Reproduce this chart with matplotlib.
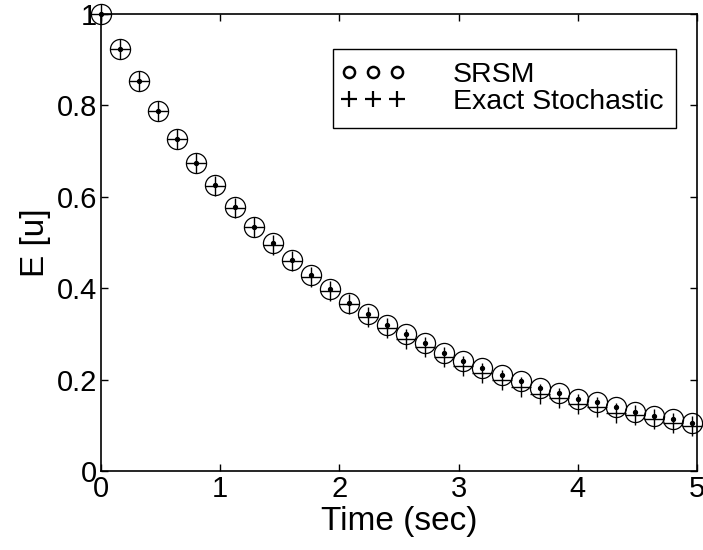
import matplotlib
matplotlib.use("Agg")
import matplotlib.pyplot as plt
from matplotlib.lines import Line2D
from matplotlib.legend_handler import HandlerLine2D

plt.rcParams['font.family'] = ['Liberation Sans', 'DejaVu Sans']

time_sec = [0.00, 0.16, 0.32, 0.48, 0.64, 0.80, 0.96, 1.12, 1.28, 1.44,
            1.60, 1.76, 1.92, 2.08, 2.24, 2.40, 2.56, 2.72, 2.88, 3.04,
            3.20, 3.36, 3.52, 3.68, 3.84, 4.00, 4.16, 4.32, 4.48, 4.64,
            4.80, 4.96]

srsm = [1.000, 0.923, 0.853, 0.788, 0.727, 0.675, 0.626, 0.577, 0.535, 0.498,
        0.462, 0.428, 0.398, 0.368, 0.343, 0.319, 0.299, 0.279, 0.259, 0.241,
        0.225, 0.211, 0.197, 0.182, 0.170, 0.158, 0.150, 0.139, 0.130, 0.120,
        0.113, 0.106]

exact = [1.000, 0.923, 0.853, 0.787, 0.726, 0.674, 0.624, 0.576, 0.533, 0.495,
         0.459, 0.425, 0.393, 0.366, 0.338, 0.314, 0.289, 0.271, 0.250, 0.230,
         0.214, 0.199, 0.183, 0.169, 0.160, 0.146, 0.140, 0.128, 0.122, 0.114,
         0.104, 0.098]

xticks = [0, 1, 2, 3, 4, 5]
yticks = [0, 0.2, 0.4, 0.6, 0.8, 1]
ytick_labels = ['0', '0.2', '0.4', '0.6', '0.8', '1']

fig = plt.figure(figsize=(7.03, 5.50), dpi=100)
ax = fig.add_axes([101/703, 1 - 471/550, 596/703, 457/550])

ax.plot(time_sec, srsm, linestyle='none', marker='o', markersize=14.5,
        markerfacecolor='none', markeredgecolor='black', markeredgewidth=0.9,
        clip_on=False, zorder=3)
ax.plot(time_sec, srsm, linestyle='none', marker='o', markersize=2.8,
        markerfacecolor='black', markeredgecolor='black', clip_on=False, zorder=4)
ax.plot(time_sec, exact, linestyle='none', marker='+', markersize=14.5,
        markeredgecolor='black', markeredgewidth=1.0, clip_on=False, zorder=3)

ax.set_xlim(0, 5)
ax.set_ylim(0, 1)
ax.set_xticks(xticks)
ax.set_xticklabels([str(v) for v in xticks])
ax.set_yticks(yticks)
ax.set_yticklabels(ytick_labels)
ax.tick_params(direction='in', length=5, width=1, top=True, right=True,
               labelsize=21, pad=3, colors='black')
for s in ax.spines.values():
    s.set_linewidth(1.2)
    s.set_color('black')

ax.set_xlabel('Time (sec)', fontsize=24, labelpad=2)
ax.set_ylabel('E [u]', fontsize=24, labelpad=4)

h_srsm = Line2D([], [], linestyle='none', marker='o', markersize=8,
                markerfacecolor='none', markeredgecolor='black', markeredgewidth=1.8)
h_exact = Line2D([], [], linestyle='none', marker='+', markersize=11,
                 markeredgecolor='black', markeredgewidth=1.6)
leg = ax.legend([h_srsm, h_exact], ['SRSM', 'Exact Stochastic'], loc='upper right',
                bbox_to_anchor=((676 - 101) / 596, (471 - 49) / 457),
                borderaxespad=0, numpoints=3, handlelength=1.9, handletextpad=1.85,
                fontsize=20.5, frameon=True, fancybox=False, framealpha=1,
                edgecolor='black', borderpad=0.45, labelspacing=0.05,
                handler_map={h_srsm: HandlerLine2D(marker_pad=0.1),
                             h_exact: HandlerLine2D(marker_pad=0.1)})
leg.get_frame().set_linewidth(1.0)

fig.savefig('out.png', dpi=100)
